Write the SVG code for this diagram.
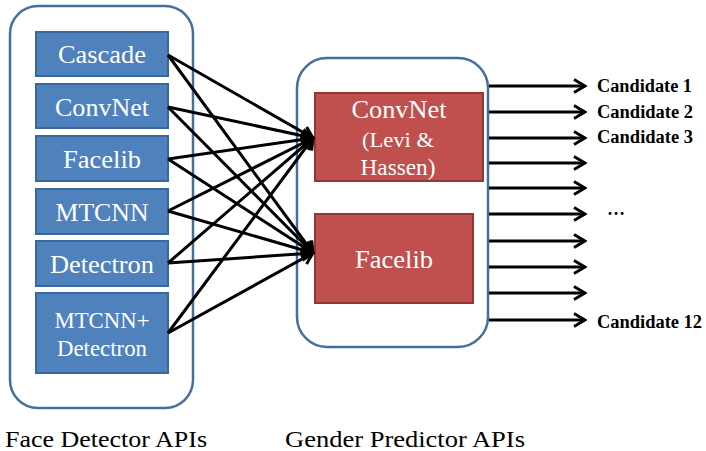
<svg xmlns="http://www.w3.org/2000/svg" width="706" height="451" viewBox="0 0 706 451" font-family="Liberation Serif, serif">
<style>
.cont{fill:#fff;stroke:#44709f;stroke-width:2.5}
.blue{fill:#4f81bd;stroke:#3a679c;stroke-width:2}
.red{fill:#c0504d;stroke:#943634;stroke-width:2}
.wt{fill:#fff;text-anchor:middle}
.lbl{fill:#000}
.cand{font-weight:bold;fill:#000;font-size:18px}
.ln{stroke:#000;stroke-width:3;fill:none;marker-end:url(#ah)}
</style>
<defs>
<marker id="ah" viewBox="0 0 14 16" refX="12" refY="8" markerWidth="14" markerHeight="16" markerUnits="userSpaceOnUse" orient="auto">
<path d="M1,1.5 L12,8 L1,14.5" fill="none" stroke="#000" stroke-width="3"/>
</marker>
</defs>
<rect width="706" height="451" fill="#fff"/>
<g id="face-detectors">
<rect class="cont" x="10" y="6" width="183" height="402" rx="28"/>
</g>
<g id="gender-predictors">
<rect class="cont" x="297" y="58" width="191" height="289" rx="30"/>
</g>
<g id="cascade"><rect class="blue" x="36" y="32" width="132" height="44"/><text class="wt" x="102" y="63" font-size="25" font-family="Liberation Serif, serif" textLength="88" lengthAdjust="spacingAndGlyphs">Cascade</text></g>
<g id="convnet-fd"><rect class="blue" x="36" y="84" width="132" height="44"/><text class="wt" x="102" y="116" font-size="25" font-family="Liberation Serif, serif" textLength="94" lengthAdjust="spacingAndGlyphs">ConvNet</text></g>
<g id="facelib-fd"><rect class="blue" x="36" y="136" width="132" height="45"/><text class="wt" x="102" y="168" font-size="25" font-family="Liberation Serif, serif" textLength="78" lengthAdjust="spacingAndGlyphs">Facelib</text></g>
<g id="mtcnn"><rect class="blue" x="36" y="189" width="132" height="45"/><text class="wt" x="102" y="221" font-size="25" font-family="Liberation Serif, serif" textLength="93" lengthAdjust="spacingAndGlyphs">MTCNN</text></g>
<g id="detectron"><rect class="blue" x="36" y="241" width="132" height="45"/><text class="wt" x="102" y="273" font-size="25" font-family="Liberation Serif, serif" textLength="104" lengthAdjust="spacingAndGlyphs">Detectron</text></g>
<g id="mtcnn-detectron"><rect class="blue" x="36" y="293" width="132" height="80"/><text class="wt" x="102" y="328" font-size="23" font-family="Liberation Serif, serif" textLength="95" lengthAdjust="spacingAndGlyphs">MTCNN+</text><text class="wt" x="102" y="356" font-size="23" font-family="Liberation Serif, serif" textLength="90" lengthAdjust="spacingAndGlyphs">Detectron</text></g>
<g id="convnet-gp"><rect class="red" x="315" y="93" width="168" height="88"/><text class="wt" x="399" y="118" font-size="25" font-family="Liberation Serif, serif" textLength="95" lengthAdjust="spacingAndGlyphs">ConvNet</text><text class="wt" x="398" y="147" font-size="22" font-family="Liberation Serif, serif" textLength="72" lengthAdjust="spacingAndGlyphs">(Levi &amp;</text><text class="wt" x="398" y="175" font-size="23" font-family="Liberation Serif, serif" textLength="75" lengthAdjust="spacingAndGlyphs">Hassen)</text></g>
<g id="facelib-gp"><rect class="red" x="315" y="214" width="158" height="89"/><text class="wt" x="394" y="268" font-size="25" font-family="Liberation Serif, serif" textLength="78" lengthAdjust="spacingAndGlyphs">Facelib</text></g>
<g id="connectors">
<line class="ln" x1="168" y1="55" x2="313" y2="138"/>
<line class="ln" x1="168" y1="55" x2="313" y2="253"/>
<line class="ln" x1="168" y1="107" x2="313" y2="138"/>
<line class="ln" x1="168" y1="107" x2="313" y2="253"/>
<line class="ln" x1="168" y1="159" x2="313" y2="138"/>
<line class="ln" x1="168" y1="159" x2="313" y2="253"/>
<line class="ln" x1="168" y1="211" x2="313" y2="138"/>
<line class="ln" x1="168" y1="211" x2="313" y2="253"/>
<line class="ln" x1="168" y1="263" x2="313" y2="138"/>
<line class="ln" x1="168" y1="263" x2="313" y2="253"/>
<line class="ln" x1="168" y1="333" x2="313" y2="138"/>
<line class="ln" x1="168" y1="333" x2="313" y2="253"/>
<line class="ln" x1="489" y1="86" x2="585" y2="86"/>
<line class="ln" x1="489" y1="112" x2="585" y2="112"/>
<line class="ln" x1="489" y1="138" x2="585" y2="138"/>
<line class="ln" x1="489" y1="163" x2="585" y2="163"/>
<line class="ln" x1="489" y1="188" x2="585" y2="188"/>
<line class="ln" x1="489" y1="214" x2="585" y2="214"/>
<line class="ln" x1="489" y1="241" x2="585" y2="241"/>
<line class="ln" x1="489" y1="267" x2="585" y2="267"/>
<line class="ln" x1="489" y1="293" x2="585" y2="293"/>
<line class="ln" x1="489" y1="320" x2="585" y2="320"/>
</g>
<g id="candidates" font-family="Liberation Serif, serif">
<text class="cand" x="597" y="92" font-family="Liberation Serif, serif" textLength="95" lengthAdjust="spacingAndGlyphs">Candidate 1</text>
<text class="cand" x="597" y="118" font-family="Liberation Serif, serif" textLength="96" lengthAdjust="spacingAndGlyphs">Candidate 2</text>
<text class="cand" x="597" y="143" font-family="Liberation Serif, serif" textLength="96" lengthAdjust="spacingAndGlyphs">Candidate 3</text>
<text class="cand" x="607" y="215" font-family="Liberation Serif, serif">…</text>
<text class="cand" x="597" y="328" font-family="Liberation Serif, serif" textLength="105" lengthAdjust="spacingAndGlyphs">Candidate 12</text>
</g>
<g id="captions" font-family="Liberation Serif, serif">
<text class="lbl" x="5" y="447" font-size="24" font-family="Liberation Serif, serif" textLength="202" lengthAdjust="spacingAndGlyphs">Face Detector APIs</text>
<text class="lbl" x="285" y="447" font-size="24" font-family="Liberation Serif, serif" textLength="240" lengthAdjust="spacingAndGlyphs">Gender Predictor APIs</text>
</g>
</svg>
